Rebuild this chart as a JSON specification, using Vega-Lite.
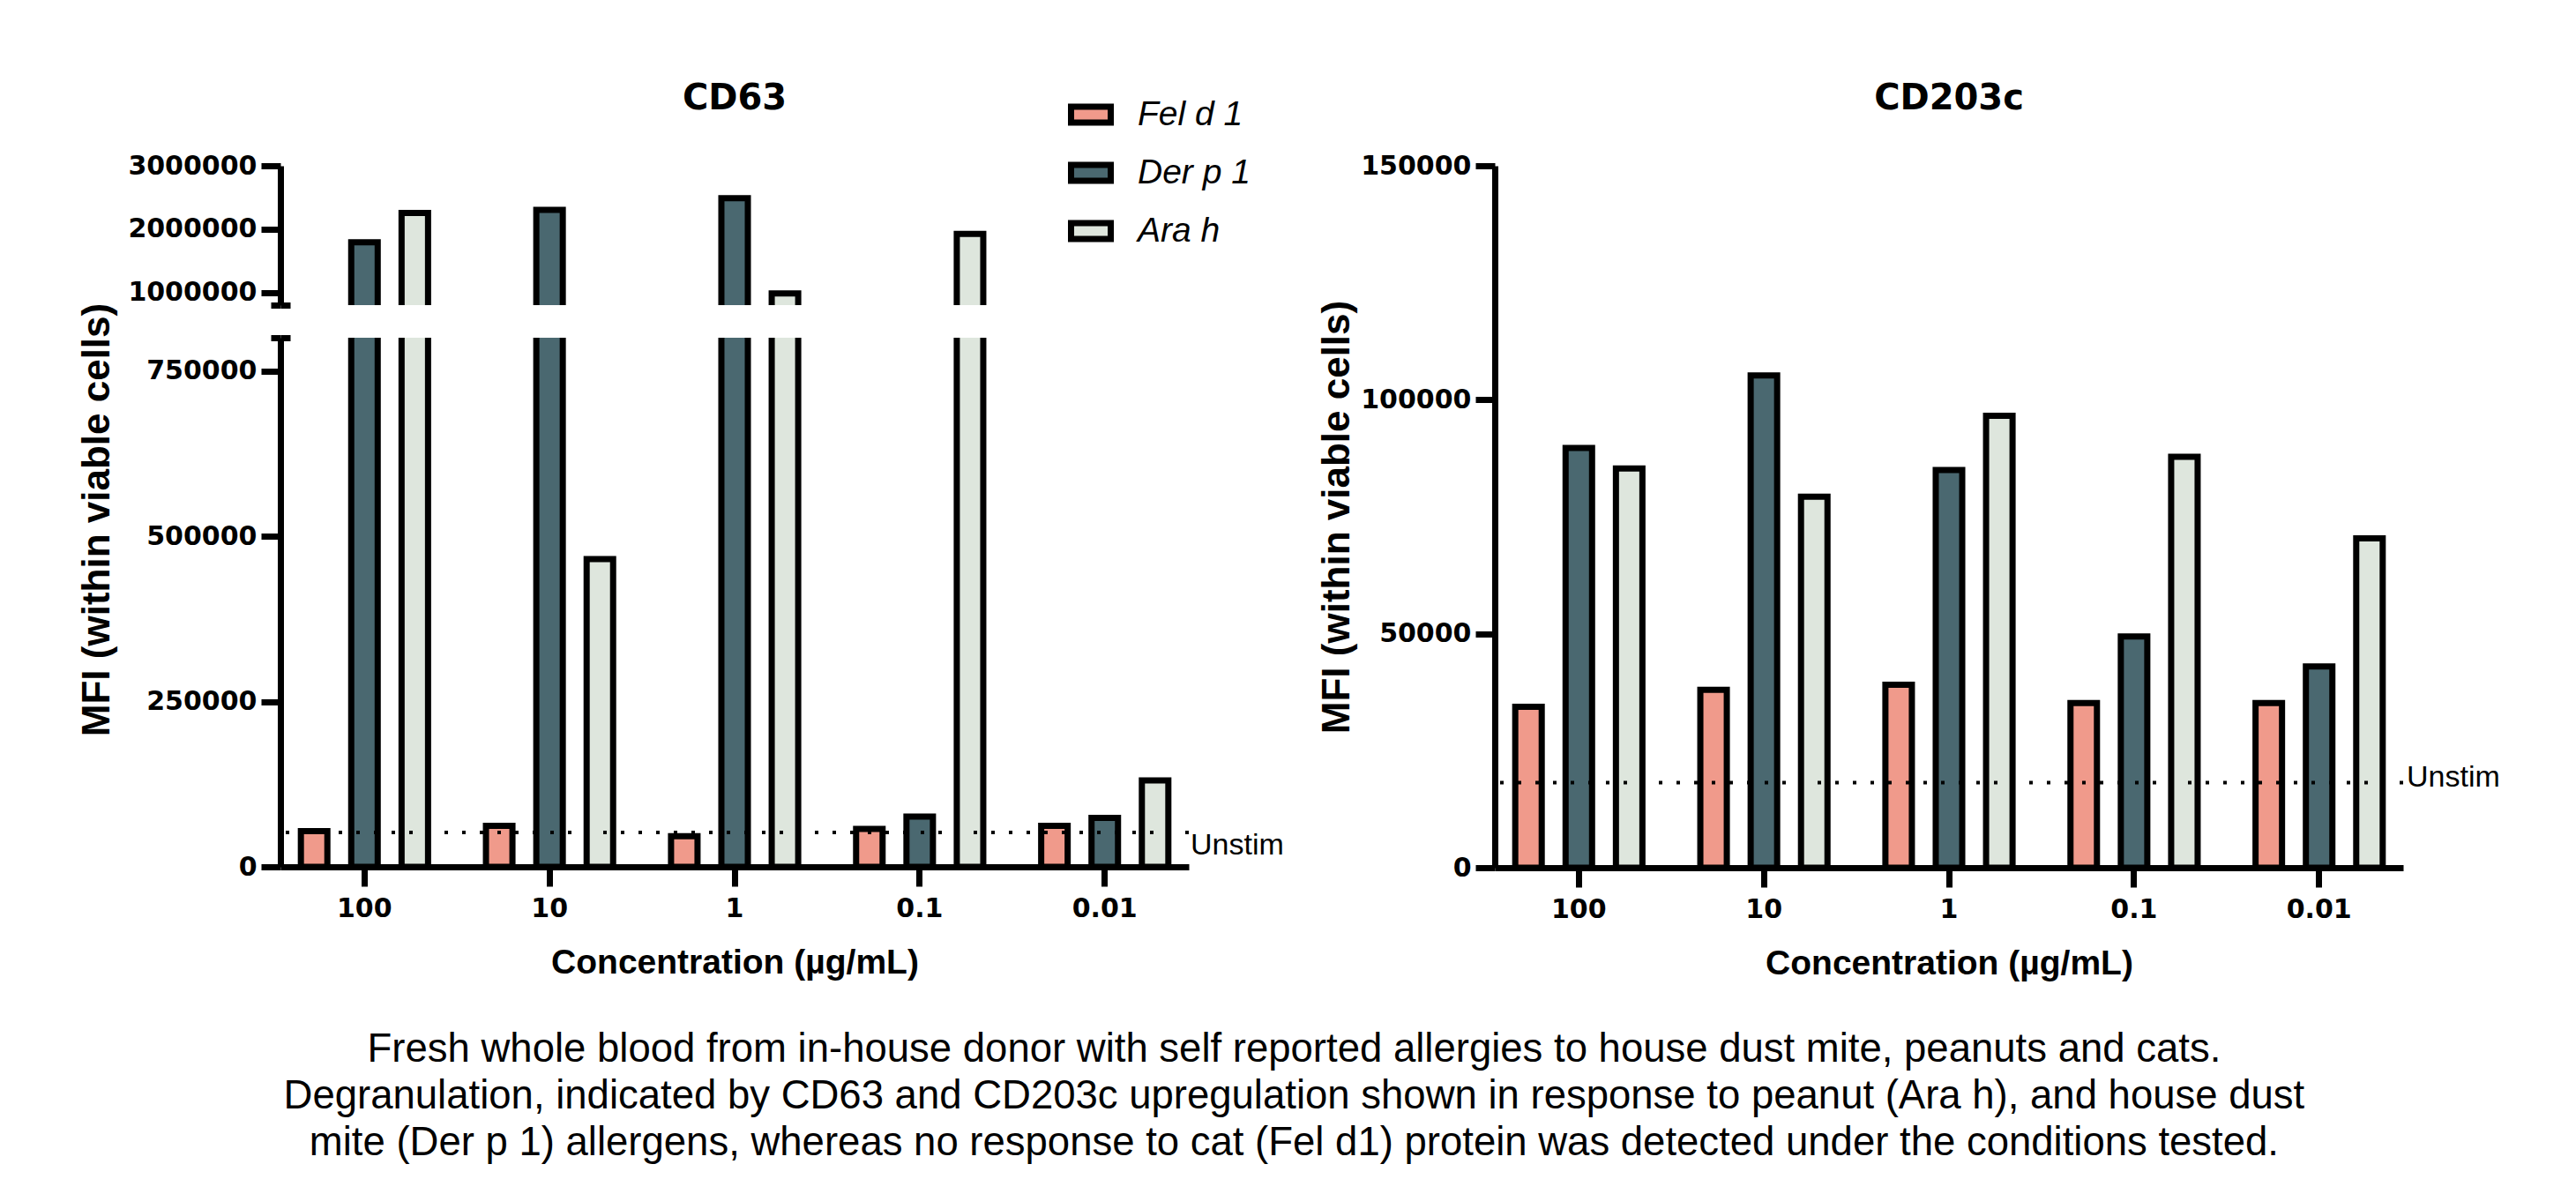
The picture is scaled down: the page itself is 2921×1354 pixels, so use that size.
{
  "$schema": "https://vega.github.io/schema/vega-lite/v6.json",
  "background": "white",
  "padding": {"left": 87, "top": 92, "right": 10, "bottom": 20},
  "datasets": {
    "cd63": [
      {"conc": "100", "allergen": "Fel d 1", "mfi": 54000},
      {"conc": "100", "allergen": "Der p 1", "mfi": 1792000},
      {"conc": "100", "allergen": "Ara h", "mfi": 2254000},
      {"conc": "10", "allergen": "Fel d 1", "mfi": 62100},
      {"conc": "10", "allergen": "Der p 1", "mfi": 2305000},
      {"conc": "10", "allergen": "Ara h", "mfi": 465200},
      {"conc": "1", "allergen": "Fel d 1", "mfi": 46400},
      {"conc": "1", "allergen": "Der p 1", "mfi": 2490000},
      {"conc": "1", "allergen": "Ara h", "mfi": 985000},
      {"conc": "0.1", "allergen": "Fel d 1", "mfi": 57200},
      {"conc": "0.1", "allergen": "Der p 1", "mfi": 75900},
      {"conc": "0.1", "allergen": "Ara h", "mfi": 1925000},
      {"conc": "0.01", "allergen": "Fel d 1", "mfi": 62100},
      {"conc": "0.01", "allergen": "Der p 1", "mfi": 73900},
      {"conc": "0.01", "allergen": "Ara h", "mfi": 130700}
    ],
    "cd203c": [
      {"conc": "100", "allergen": "Fel d 1", "mfi": 34400},
      {"conc": "100", "allergen": "Der p 1", "mfi": 89700},
      {"conc": "100", "allergen": "Ara h", "mfi": 85300},
      {"conc": "10", "allergen": "Fel d 1", "mfi": 38000},
      {"conc": "10", "allergen": "Der p 1", "mfi": 105200},
      {"conc": "10", "allergen": "Ara h", "mfi": 79300},
      {"conc": "1", "allergen": "Fel d 1", "mfi": 39100},
      {"conc": "1", "allergen": "Der p 1", "mfi": 85000},
      {"conc": "1", "allergen": "Ara h", "mfi": 96600},
      {"conc": "0.1", "allergen": "Fel d 1", "mfi": 35200},
      {"conc": "0.1", "allergen": "Der p 1", "mfi": 49400},
      {"conc": "0.1", "allergen": "Ara h", "mfi": 87800},
      {"conc": "0.01", "allergen": "Fel d 1", "mfi": 35200},
      {"conc": "0.01", "allergen": "Der p 1", "mfi": 43000},
      {"conc": "0.01", "allergen": "Ara h", "mfi": 70400}
    ],
    "unstim_cd63": [{"label": "Unstim", "mfi": 52000}],
    "unstim_cd203c": [{"label": "Unstim", "mfi": 18200}]
  },
  "title": {
    "text": [
      "Fresh whole blood from in-house donor with self reported allergies to house dust mite, peanuts and cats.",
      "Degranulation, indicated by CD63 and CD203c upregulation shown in response to peanut (Ara h), and house dust",
      "mite (Der p 1) allergens, whereas no response to cat (Fel d1) protein was detected under the conditions tested."
    ],
    "orient": "bottom",
    "anchor": "middle",
    "frame": "bounds",
    "offset": 56,
    "dx": 6,
    "font": "Liberation Sans",
    "fontSize": 45.5,
    "fontWeight": "normal",
    "lineHeight": 53,
    "color": "black"
  },
  "hconcat": [
    {
      "vconcat": [
        {
          "title": {"text": "CD63"},
          "width": 1030,
          "height": 158,
          "resolve": {"axis": {"y": "independent"}},
          "layer": [
            {
              "data": {"name": "cd63"},
              "mark": {"type": "bar", "clip": true},
              "encoding": {
                "x": {
                  "field": "conc", "type": "nominal",
                  "sort": ["100", "10", "1", "0.1", "0.01"],
                  "scale": {"paddingInner": 0.184, "paddingOuter": 0.046},
                  "axis": null
                },
                "xOffset": {
                  "field": "allergen", "type": "nominal",
                  "scale": {"domain": ["Fel d 1", "Der p 1", "Ara h"], "paddingInner": 0.474, "paddingOuter": 0.237}
                },
                "y": {
                  "field": "mfi", "type": "quantitative",
                  "scale": {"domain": [800000, 3000000], "nice": false, "zero": false},
                  "axis": {
                    "values": [800000, 1000000, 2000000, 3000000],
                    "format": "d",
                    "labelExpr": "datum.value === 800000 ? '' : datum.label",
                    "tickSize": {"condition": {"test": "datum.value === 800000", "value": 11}, "value": 22},
                    "title": null
                  }
                },
                "y2": {"datum": 0},
                "color": {
                  "field": "allergen", "type": "nominal",
                  "scale": {"domain": ["Fel d 1", "Der p 1", "Ara h"], "range": ["#F09A8B", "#4A6870", "#DEE6DD"]},
                  "legend": null
                }
              }
            },
            {
              "data": {"name": "unstim_cd63"},
              "mark": {"type": "rule", "clip": true, "color": "black", "strokeDash": [4, 16], "strokeWidth": 4},
              "encoding": {
                "y": {
                  "field": "mfi", "type": "quantitative",
                  "scale": {"domain": [800000, 3000000], "nice": false, "zero": false},
                  "axis": {"orient": "left", "values": [800000], "tickSize": -11, "labels": false, "domain": false, "title": null}
                }
              }
            }
          ]
        },
        {
          "width": 1030,
          "height": 600,
          "resolve": {"axis": {"y": "independent"}},
          "layer": [
            {
              "data": {"name": "cd63"},
              "mark": {"type": "bar", "clip": true},
              "encoding": {
                "x": {
                  "field": "conc", "type": "nominal",
                  "sort": ["100", "10", "1", "0.1", "0.01"],
                  "scale": {"paddingInner": 0.184, "paddingOuter": 0.046},
                  "title": "Concentration (µg/mL)"
                },
                "xOffset": {
                  "field": "allergen", "type": "nominal",
                  "scale": {"domain": ["Fel d 1", "Der p 1", "Ara h"], "paddingInner": 0.474, "paddingOuter": 0.237}
                },
                "y": {
                  "field": "mfi", "type": "quantitative",
                  "scale": {"domain": [0, 800000], "nice": false},
                  "axis": {
                    "values": [0, 250000, 500000, 750000, 800000],
                    "format": "d",
                    "labelExpr": "datum.value === 800000 ? '' : datum.label",
                    "tickSize": {"condition": {"test": "datum.value === 800000", "value": 11}, "value": 22},
                    "title": "MFI (within viable cells)",
                    "titleX": -186,
                    "titleY": 206
                  }
                },
                "color": {
                  "field": "allergen", "type": "nominal",
                  "scale": {"domain": ["Fel d 1", "Der p 1", "Ara h"], "range": ["#F09A8B", "#4A6870", "#DEE6DD"]},
                  "legend": {
                    "orient": "none",
                    "legendX": 893,
                    "legendY": -279,
                    "title": null,
                    "padding": 0,
                    "symbolType": "M-1,-0.4H1V0.4H-1Z",
                    "symbolSize": 2025,
                    "symbolStrokeColor": "black",
                    "symbolStrokeWidth": 7,
                    "symbolOpacity": 1,
                    "labelFont": "Liberation Sans",
                    "labelFontStyle": "italic",
                    "labelFontSize": 39,
                    "labelColor": "black",
                    "labelOffset": 27,
                    "rowPadding": 17,
                    "encode": {"symbols": {"update": {"stroke": {"value": "black"}, "strokeWidth": {"value": 7}}}}
                  }
                }
              }
            },
            {
              "data": {"name": "unstim_cd63"},
              "mark": {"type": "rule", "clip": true, "color": "black", "strokeDash": [4, 16], "strokeWidth": 4},
              "encoding": {
                "y": {
                  "field": "mfi", "type": "quantitative",
                  "scale": {"domain": [0, 800000], "nice": false},
                  "axis": {"orient": "left", "values": [800000], "tickSize": -11, "labels": false, "domain": false, "title": null}
                }
              }
            },
            {
              "data": {"name": "unstim_cd63"},
              "mark": {"type": "text", "align": "left", "baseline": "alphabetic", "dx": 2, "dy": 25, "font": "Liberation Sans", "fontSize": 34, "color": "black"},
              "encoding": {
                "x": {"value": "width"},
                "y": {"field": "mfi", "type": "quantitative", "scale": {"domain": [0, 800000], "nice": false}, "axis": null},
                "text": {"field": "label"}
              }
            }
          ]
        }
      ],
      "spacing": 37,
      "bounds": "flush",
      "resolve": {"legend": {"color": "independent"}}
    },
    {
      "title": {"text": "CD203c"},
      "width": 1030,
      "height": 796,
      "resolve": {"axis": {"y": "independent"}},
      "layer": [
        {
          "data": {"name": "cd203c"},
          "mark": {"type": "bar"},
          "encoding": {
            "x": {
              "field": "conc", "type": "nominal",
              "sort": ["100", "10", "1", "0.1", "0.01"],
              "scale": {"paddingInner": 0.184, "paddingOuter": 0.046},
              "title": "Concentration (µg/mL)"
            },
            "xOffset": {
              "field": "allergen", "type": "nominal",
              "scale": {"domain": ["Fel d 1", "Der p 1", "Ara h"], "paddingInner": 0.474, "paddingOuter": 0.237}
            },
            "y": {
              "field": "mfi", "type": "quantitative",
              "scale": {"domain": [0, 150000], "nice": false},
              "axis": {
                "values": [0, 50000, 100000, 150000],
                "format": "d",
                "title": "MFI (within viable cells)",
                "titleX": -157
              }
            },
            "color": {
              "field": "allergen", "type": "nominal",
              "scale": {"domain": ["Fel d 1", "Der p 1", "Ara h"], "range": ["#F09A8B", "#4A6870", "#DEE6DD"]},
              "legend": null
            }
          }
        },
        {
          "data": {"name": "unstim_cd203c"},
          "mark": {"type": "rule", "color": "black", "strokeDash": [4, 16], "strokeWidth": 4},
          "encoding": {
            "y": {"field": "mfi", "type": "quantitative", "scale": {"domain": [0, 150000], "nice": false}, "axis": null}
          }
        },
        {
          "data": {"name": "unstim_cd203c"},
          "mark": {"type": "text", "align": "left", "baseline": "alphabetic", "dx": 4, "dy": 5, "font": "Liberation Sans", "fontSize": 34, "color": "black"},
          "encoding": {
            "x": {"value": "width"},
            "y": {"field": "mfi", "type": "quantitative", "scale": {"domain": [0, 150000], "nice": false}, "axis": null},
            "text": {"field": "label"}
          }
        }
      ]
    }
  ],
  "spacing": 38,
  "resolve": {"legend": {"color": "independent"}},
  "config": {
    "view": {"stroke": null},
    "font": "Liberation Sans",
    "bar": {"stroke": "black", "strokeWidth": 7, "strokeJoin": "miter"},
    "axis": {
      "domainColor": "black",
      "domainWidth": 7,
      "tickColor": "black",
      "tickWidth": 7,
      "tickSize": 22,
      "grid": false,
      "labelFont": "DejaVu Sans",
      "labelFontWeight": "bold",
      "labelFontSize": 30,
      "labelColor": "black",
      "titleFont": "Liberation Sans",
      "titleFontWeight": "bold",
      "titleColor": "black"
    },
    "axisX": {"labelPadding": 10, "labelAngle": 0, "titleFontSize": 39, "titlePadding": 27},
    "axisY": {"labelPadding": 5, "titleFontSize": 44},
    "title": {"font": "DejaVu Sans", "fontSize": 40, "fontWeight": "bold", "color": "black", "offset": 41, "frame": "group", "anchor": "middle"}
  }
}
